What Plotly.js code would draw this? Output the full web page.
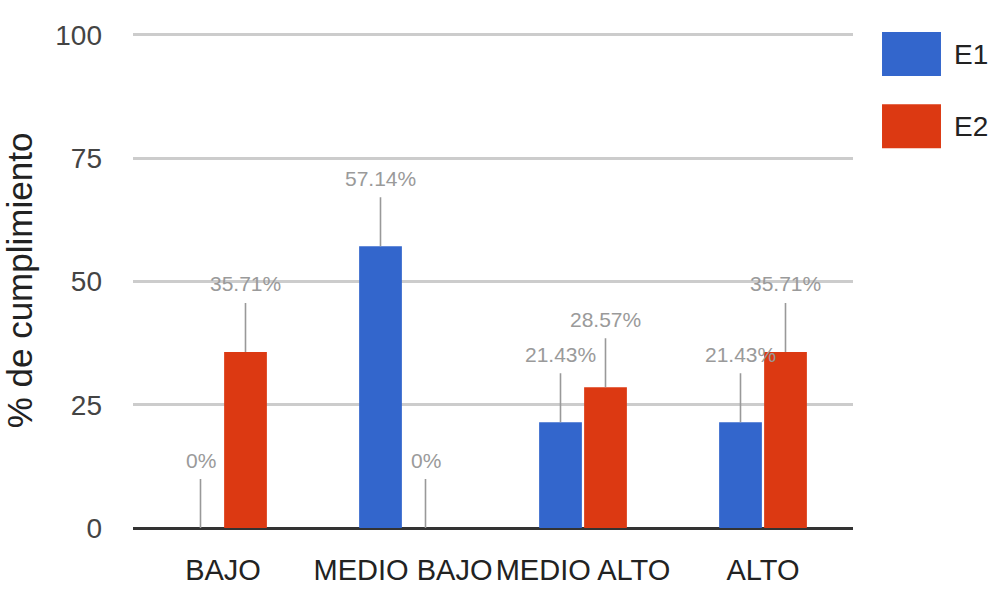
<!DOCTYPE html>
<html>
<head>
<meta charset="utf-8">
<script src="https://cdn.plot.ly/plotly-3.0.1.min.js"></script>
<style>
html,body{margin:0;padding:0;background:#fff;}
#chart{width:990px;height:595px;}
</style>
</head>
<body>
<div id="chart"></div>
<script>
var categories = ["BAJO", "MEDIO BAJO", "MEDIO ALTO", "ALTO"];
var seriesNames = ["E1", "E2"];
var e1Values = [0, 57.14, 21.43, 21.43];
var e2Values = [35.71, 0, 28.57, 35.71];
var yTickVals = [0, 25, 50, 75, 100];
var yTickText = ["0", "25", "50", "75", "100"];

var colors = ["#3366cc", "#dc3912"];
var seriesValues = [e1Values, e2Values];
var FONT = "Liberation Sans, Arial, sans-serif";

var traces = seriesValues.map(function (vals, s) {
  return {
    type: "bar",
    name: seriesNames[s],
    x: categories,
    y: vals,
    marker: { color: colors[s] },
    hoverinfo: "skip",
    showlegend: false
  };
});

function fmt(v) {
  return (Math.round(v * 100) / 100) + "%";
}

var annotations = [];
var offsets = [-0.125, 0.125];
seriesValues.forEach(function (vals, s) {
  vals.forEach(function (v, i) {
    annotations.push({
      xref: "x", yref: "y",
      x: i + offsets[s], y: v,
      text: fmt(v),
      showarrow: true,
      arrowhead: 0,
      arrowwidth: 1.6,
      arrowcolor: "#999999",
      ax: 0, ay: -68,
      borderpad: 7,
      font: { family: FONT, size: 21, color: "#9a9a9a" }
    });
  });
});

// legend (drawn in paper coordinates)
var shapes = [];
var legendY = [[1.002, 0.913], [0.856, 0.767]];
seriesNames.forEach(function (n, s) {
  shapes.push({
    type: "rect", xref: "paper", yref: "paper",
    x0: 1.0403, x1: 1.1222, y0: legendY[s][1], y1: legendY[s][0],
    fillcolor: colors[s], line: { width: 0 }
  });
  annotations.push({
    xref: "paper", yref: "paper",
    x: 1.1375, y: (legendY[s][0] + legendY[s][1]) / 2,
    xanchor: "left", yanchor: "middle",
    text: n, showarrow: false,
    font: { family: FONT, size: 28, color: "#222222" }
  });
});

var layout = {
  width: 990, height: 595,
  margin: { l: 133, r: 137, t: 33, b: 67 },
  paper_bgcolor: "#ffffff",
  plot_bgcolor: "#ffffff",
  barmode: "group",
  bargap: 0.5,
  bargroupgap: 0.05,
  showlegend: false,
  font: { family: FONT },
  xaxis: {
    type: "category",
    showgrid: false,
    showline: false,
    ticks: "",
    tickangle: 0,
    ticklabelstandoff: 22,
    tickfont: { family: FONT, size: 29, color: "#222222" },
    automargin: false,
    fixedrange: true
  },
  yaxis: {
    range: [0, 100.4],
    tickvals: yTickVals,
    ticktext: yTickText,
    showgrid: true,
    gridcolor: "#cccccc",
    gridwidth: 3,
    zeroline: true,
    zerolinecolor: "#333333",
    zerolinewidth: 3,
    showline: false,
    ticks: "",
    ticklabelstandoff: 30,
    tickfont: { family: FONT, size: 28, color: "#444444" },
    title: {
      text: "% de cumplimiento",
      standoff: 12,
      font: { family: FONT, size: 35, color: "#222222" }
    },
    automargin: false,
    fixedrange: true
  },
  annotations: annotations,
  shapes: shapes
};

Plotly.newPlot("chart", traces, layout, { displayModeBar: false, staticPlot: true });
</script>
</body>
</html>
